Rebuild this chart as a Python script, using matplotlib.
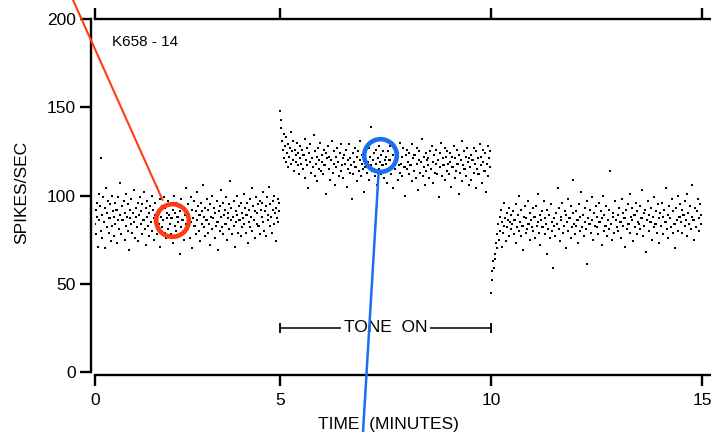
import numpy as np
import matplotlib
matplotlib.use("Agg")
import matplotlib.pyplot as plt

plt.rcParams['font.family'] = ['Liberation Sans', 'DejaVu Sans']

# taux de décharge (spikes/s), un point par seconde, trois périodes de 5 min
avant = [
    84, 92, 78, 96, 88, 71, 101, 86, 94, 80, 121, 89, 76, 99, 85, 85, 93, 70, 104, 82, 90, 97, 79, 87, 87, 95, 74, 100, 83, 91,
    88, 77, 96, 84, 92, 92, 73, 86, 99, 81, 107, 89, 78, 94, 86, 86, 86, 97, 75, 90, 83, 101, 88, 80, 95, 69, 87, 92, 84, 98,
    79, 90, 90, 85, 103, 76, 93, 88, 82, 96, 74, 89, 89, 99, 84, 91, 78, 95, 86, 86, 102, 81, 93, 72, 88, 97, 83, 90, 77, 94,
    85, 85, 100, 80, 92, 87, 75, 96, 89, 83, 105, 78, 91, 91, 84, 98, 71, 88, 94, 82, 86, 86, 99, 79, 93, 76, 90, 87, 97, 81,
    89, 84, 95, 78, 87, 87, 92, 73, 100, 83, 90, 96, 80, 88, 88, 85, 94, 67, 91, 82, 98, 86, 86, 79, 93, 75, 89, 104, 84, 90,
    81, 95, 88, 88, 76, 99, 85, 92, 70, 87, 97, 83, 83, 91, 78, 102, 86, 94, 80, 89, 89, 74, 96, 84, 91, 106, 82, 88, 77, 93,
    86, 86, 98, 79, 92, 84, 72, 95, 88, 81, 100, 87, 87, 93, 76, 90, 83, 97, 85, 85, 69, 91, 94, 80, 88, 103, 82, 96, 78, 89,
    92, 84, 84, 99, 75, 90, 87, 95, 81, 108, 86, 93, 78, 88, 88, 97, 83, 71, 91, 85, 100, 89, 79, 94, 86, 86, 96, 77, 90, 82,
    87, 101, 84, 93, 79, 89, 89, 96, 73, 92, 85, 98, 82, 88, 104, 80, 94, 86, 86, 91, 76, 99, 84, 90, 95, 83, 83, 97, 78, 92,
    88, 96, 85, 102, 80, 91, 91, 94, 77, 99, 86, 89, 105, 83, 95, 88, 88, 79, 97, 92, 84, 100, 90, 74, 93, 87, 98, 85, 91, 96,
]

son = [
    148, 143, 138, 131, 126, 135, 121, 128, 119, 133, 124, 116, 129, 122, 127, 136, 118, 125, 120, 131, 114, 126, 123, 119, 130, 117, 124, 112, 128, 121,
    118, 126, 115, 123, 123, 132, 110, 120, 127, 117, 104, 124, 119, 129, 113, 121, 121, 116, 134, 111, 125, 118, 122, 108, 127, 115, 120, 130, 114, 123,
    119, 112, 126, 117, 117, 124, 101, 121, 128, 115, 122, 109, 120, 120, 131, 113, 118, 125, 106, 122, 116, 127, 119, 119, 111, 124, 114, 129, 117, 121,
    110, 123, 118, 118, 126, 105, 120, 115, 129, 113, 121, 117, 98, 124, 112, 119, 127, 116, 116, 122, 108, 125, 114, 120, 131, 111, 118, 123, 115, 102,
    121, 116, 125, 113, 119, 119, 127, 109, 122, 117, 139, 114, 120, 124, 124, 111, 126, 118, 106, 121, 115, 128, 119, 112, 123, 117, 117, 125, 110, 120,
    118, 122, 107, 125, 114, 120, 120, 128, 112, 116, 123, 104, 119, 126, 115, 121, 121, 109, 124, 117, 130, 113, 118, 122, 111, 127, 116, 116, 100, 123,
    115, 126, 119, 112, 124, 117, 117, 129, 108, 121, 114, 123, 123, 110, 127, 118, 103, 120, 125, 113, 119, 119, 132, 111, 122, 116, 106, 124, 114, 120,
    117, 121, 110, 125, 115, 115, 128, 119, 107, 123, 113, 118, 126, 112, 120, 120, 99, 124, 116, 130, 111, 121, 117, 117, 127, 109, 122, 114, 125, 118,
    112, 124, 119, 105, 122, 116, 116, 128, 110, 121, 114, 126, 118, 118, 101, 123, 113, 120, 131, 108, 117, 125, 115, 115, 122, 111, 127, 119, 106, 121,
    116, 123, 109, 120, 120, 127, 113, 118, 104, 125, 115, 121, 112, 112, 129, 117, 122, 107, 119, 126, 114, 114, 124, 102, 118, 128, 111, 121, 116, 125,
]

apres = [
    45, 57, 52, 63, 59, 67, 64, 73, 70, 78, 84, 75, 88, 80, 92, 71, 85, 79, 96, 83, 87, 74, 90, 82, 86, 93, 77, 85, 81, 89,
    84, 91, 78, 86, 86, 95, 73, 82, 89, 80, 100, 85, 77, 92, 83, 83, 69, 88, 94, 79, 87, 81, 97, 84, 84, 75, 90, 86, 82, 93,
    80, 88, 88, 76, 94, 83, 85, 101, 79, 89, 72, 86, 91, 82, 82, 97, 78, 87, 84, 67, 92, 81, 89, 89, 76, 95, 85, 80, 59, 83,
    87, 77, 90, 84, 84, 104, 81, 93, 74, 88, 86, 96, 79, 83, 83, 91, 70, 89, 85, 98, 80, 87, 87, 76, 94, 82, 90, 109, 84, 78,
    91, 83, 86, 86, 73, 95, 80, 88, 102, 82, 89, 89, 77, 93, 85, 81, 97, 61, 87, 84, 84, 92, 79, 99, 86, 75, 90, 83, 83, 94,
    82, 88, 78, 96, 85, 85, 91, 72, 87, 100, 80, 89, 83, 83, 94, 77, 86, 92, 81, 114, 84, 84, 75, 90, 88, 79, 97, 86, 86, 82,
    89, 80, 93, 85, 85, 76, 98, 83, 90, 87, 87, 71, 92, 81, 95, 84, 84, 101, 79, 88, 86, 93, 74, 89, 89, 82, 96, 78, 91, 85,
    84, 94, 81, 87, 87, 103, 77, 90, 83, 92, 68, 86, 86, 97, 80, 89, 85, 85, 93, 75, 88, 82, 99, 84, 84, 91, 79, 95, 87, 73,
    90, 83, 83, 96, 78, 88, 92, 85, 85, 104, 81, 89, 76, 94, 87, 87, 82, 98, 79, 91, 84, 84, 70, 93, 86, 100, 80, 88, 88, 95,
    85, 92, 79, 89, 89, 97, 83, 86, 101, 77, 90, 84, 84, 94, 81, 88, 106, 86, 86, 75, 93, 82, 91, 91, 98, 80, 87, 95, 84, 89,
]

debuts = [0, 5, 10]          # début de chaque période (min)
duree_son = [5, 10]          # période avec le son
point_rouge = (2.07, 86)     # points entourés
point_bleu = (7.36, 123)
xticks = [0, 5, 10, 15]
yticks = [0, 50, 100, 150, 200]


# échelle en morceaux : la première période est un peu plus étroite sur la figure
def avance(x):
    x = np.asarray(x, dtype=float)
    return np.where(x < 5, x * 37.0, 185 + (x - 5) * 42.2)

def recule(y):
    y = np.asarray(y, dtype=float)
    return np.where(y < 185, y / 37.0, 5 + (y - 185) / 42.2)


fig = plt.figure(figsize=(7.11, 4.32), dpi=100)
ax = fig.add_axes([95 / 711, 1 - 372 / 432, 616 / 711, 353 / 432])
ax.set_xscale('function', functions=(avance, recule))

for debut, serie in zip(debuts, [avant, son, apres]):
    t = debut + np.arange(len(serie)) / 60
    ax.plot(t, serie, 's', color='black', markersize=2.1, markeredgewidth=0, zorder=2)

ax.set_xlim(0, 15.21)
ax.set_ylim(0, 200)

for s in ['left', 'bottom', 'top']:
    ax.spines[s].set_linewidth(1.7)
ax.spines['right'].set_visible(False)
ax.spines['left'].set_position(('outward', 3))
ax.spines['bottom'].set_position(('outward', 2.2))

ax.set_xticks(xticks)
ax.set_yticks(yticks)
ax.set_xticklabels([str(v) for v in xticks])
ax.minorticks_off()
ax.tick_params(axis='both', direction='out', length=8, width=1.7, labelsize=12.5, colors='black')
ax.tick_params(axis='x', top=True, pad=5)
ax.tick_params(axis='y', pad=3)

# annotations
ax.text(17 / 616, 1 - 23 / 353, 'K658 - 14', transform=ax.transAxes, fontsize=11, va='center')
ax.hlines(25, duree_son[0], duree_son[1], color='black', lw=1.1)
ax.vlines(duree_son, 22, 28, color='black', lw=1.3)
ax.text(7.5, 25, 'TONE  ON', ha='center', va='center', fontsize=12.5,
        bbox=dict(fc='white', ec='none', pad=2))

fig.text(22 / 711, 1 - 192 / 432, 'SPIKES/SEC', rotation=90, ha='center', va='center', fontsize=12.5)
fig.text(388 / 711, 1 - 417 / 432, 'TIME  (MINUTES)', ha='center', va='top', fontsize=12.5)

# cercles et traits de couleur
rouge = '#ff3c14'
bleu = '#1a6ff0'
for (px, py), c, bout, rayon, lw in [(point_rouge, rouge, (73 / 711, 1.0), 16, 1.5),
                                     (point_bleu, bleu, (363 / 711, 0.0), 13, 1.8)]:
    ax.plot([px], [py], 'o', mfc='none', mec=c, markersize=23.5, markeredgewidth=3.3,
            zorder=5, clip_on=False)
    ax.annotate('', xy=(px, py), xycoords='data', xytext=bout, textcoords='figure fraction',
                arrowprops=dict(arrowstyle='-', color=c, lw=lw, shrinkA=0, shrinkB=rayon),
                annotation_clip=False, zorder=4)

fig.savefig('out.png', dpi=100)
